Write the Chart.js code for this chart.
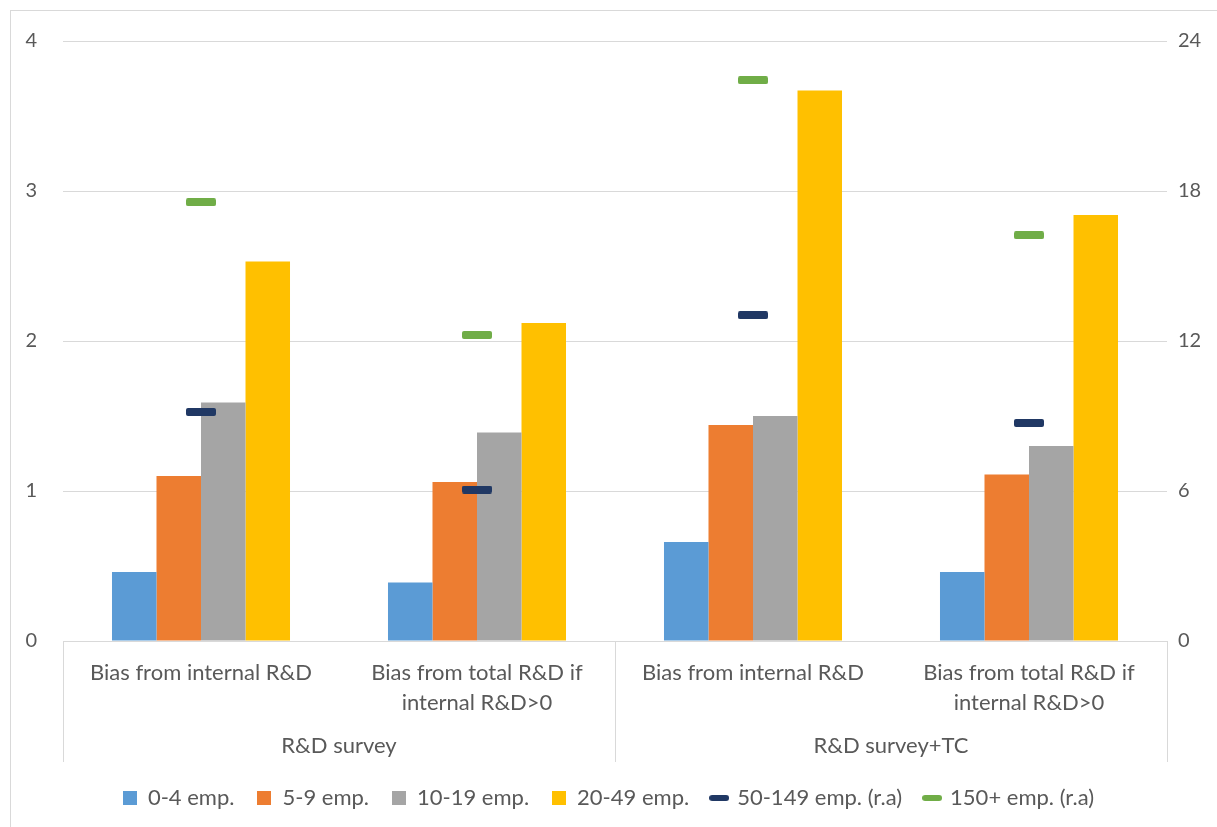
<!DOCTYPE html>
<html>
<head>
<meta charset="utf-8">
<title>Bias by firm size</title>
<script src="https://cdn.jsdelivr.net/npm/chart.js@4.4.1/dist/chart.umd.min.js"></script>
<style>
  html, body { margin: 0; padding: 0; background: #fff; }
  #wrap { position: relative; width: 1217px; height: 827px; overflow: hidden; }
  #frame { position: absolute; left: 10px; top: 10px; width: 1230px; height: 840px; border: 1px solid #d9d9d9; }
  #chart { position: absolute; left: 0; top: 0; }
</style>
</head>
<body>
<div id="wrap">
  <div id="frame"></div>
  <canvas id="chart" width="1217" height="827"></canvas>
</div>
<script>
// categories (inner level) and their groups (outer level)
const categories = [
    ['Bias from internal R&D'],
    ['Bias from total R&D if', 'internal R&D>0'],
    ['Bias from internal R&D'],
    ['Bias from total R&D if', 'internal R&D>0']
];
const groups = ['R&D survey', 'R&D survey+TC'];
const groupSize = 2;

// left axis series
const emp0to4 = [0.46, 0.39, 0.66, 0.46];
const emp5to9 = [1.10, 1.06, 1.44, 1.11];
const emp10to19 = [1.59, 1.39, 1.50, 1.30];
const emp20to49 = [2.53, 2.12, 3.67, 2.84];

// right axis series (r.a)
const emp50to149 = [9.16, 6.06, 13.03, 8.72];
const emp150plus = [17.55, 12.24, 22.43, 16.23];

const leftAxis = { min: 0, max: 4, step: 1 };
const rightAxis = { min: 0, max: 24, step: 6 };

const TEXT = '#595959';
const GRID = '#d9d9d9';
const FONT = 'Lato, "Open Sans", sans-serif';

// small rounded dash used as the marker for the r.a series
function dash(color, w, h, r) {
    const c = document.createElement('canvas');
    c.width = w;
    c.height = h;
    const g = c.getContext('2d');
    g.fillStyle = color;
    g.beginPath();
    g.roundRect(0, 0, w, h, r);
    g.fill();
    return c;
}

function box(color, w, h) {
    const c = document.createElement('canvas');
    c.width = w;
    c.height = h;
    const g = c.getContext('2d');
    g.fillStyle = color;
    g.fillRect(0, 0, w, h);
    return c;
}

function barSet(label, data, color) {
    return {
        label: label,
        data: data,
        backgroundColor: color,
        borderWidth: 0,
        yAxisID: 'y',
        order: 1,
        legendMark: box(color, 14, 14)
    };
}

function dashSet(label, data, color) {
    return {
        type: 'line',
        label: label,
        data: data,
        yAxisID: 'y1',
        showLine: false,
        pointStyle: dash(color, 30, 8, 2),
        pointHoverRadius: 0,
        order: 0,
        legendMark: dash(color, 20, 6, 3)
    };
}

// outer category labels and separators under the x axis
const groupLabels = {
    id: 'groupLabels',
    afterDraw(chart) {
        const { ctx, chartArea, scales } = chart;
        const x = scales.x;
        const catW = (chartArea.right - chartArea.left) / categories.length;
        ctx.save();
        ctx.strokeStyle = GRID;
        ctx.lineWidth = 1;
        ctx.fillStyle = TEXT;
        ctx.font = '22px ' + FONT;
        ctx.textAlign = 'center';
        ctx.textBaseline = 'middle';
        const bounds = [];
        groups.forEach((name, g) => {
            const left = x.getPixelForValue(g * groupSize) - catW / 2;
            const right = x.getPixelForValue(g * groupSize + groupSize - 1) + catW / 2;
            bounds.push(left, right);
            ctx.fillText(name, (left + right) / 2, 746);
        });
        [...new Set(bounds.map(b => Math.round(b)))].forEach(bx => {
            ctx.beginPath();
            ctx.moveTo(bx + 0.5, chartArea.bottom);
            ctx.lineTo(bx + 0.5, 762);
            ctx.stroke();
        });
        ctx.restore();
    }
};

new Chart(document.getElementById('chart'), {
    type: 'bar',
    data: {
        labels: categories,
        datasets: [
            barSet('0-4 emp.', emp0to4, '#5b9bd5'),
            barSet('5-9 emp.', emp5to9, '#ed7d31'),
            barSet('10-19 emp.', emp10to19, '#a5a5a5'),
            barSet('20-49 emp.', emp20to49, '#ffc000'),
            dashSet('50-149 emp. (r.a)', emp50to149, '#203864'),
            dashSet('150+ emp. (r.a)', emp150plus, '#70ad47')
        ]
    },
    options: {
        responsive: false,
        animation: false,
        datasets: {
            bar: { categoryPercentage: 0.645, barPercentage: 1 }
        },
        layout: { padding: { top: 41, left: 0, right: 0, bottom: 8 } },
        plugins: {
            tooltip: { enabled: false },
            legend: {
                position: 'bottom',
                labels: {
                    color: TEXT,
                    font: { family: FONT, size: 22 },
                    usePointStyle: true,
                    boxWidth: 14,
                    padding: 23,
                    generateLabels(chart) {
                        return chart.data.datasets.map((ds, i) => ({
                            text: ds.label,
                            fillStyle: ds.backgroundColor,
                            pointStyle: ds.legendMark,
                            fontColor: TEXT,
                            lineWidth: 0,
                            datasetIndex: i
                        }));
                    }
                }
            }
        },
        scales: {
            x: {
                grid: { display: false },
                border: { display: false },
                ticks: {
                    color: TEXT,
                    font: { family: FONT, size: 22, lineHeight: 1.36 },
                    padding: 9,
                    maxRotation: 0,
                    autoSkip: false
                },
                afterFit(s) { s.height = 123; }
            },
            y: {
                position: 'left',
                min: leftAxis.min,
                max: leftAxis.max,
                ticks: {
                    stepSize: leftAxis.step,
                    color: TEXT,
                    font: { family: FONT, size: 20 },
                    padding: 26
                },
                grid: { color: GRID, drawTicks: false },
                border: { display: false },
                afterFit(s) { s.width = 63; }
            },
            y1: {
                position: 'right',
                min: rightAxis.min,
                max: rightAxis.max,
                ticks: {
                    stepSize: rightAxis.step,
                    color: TEXT,
                    font: { family: FONT, size: 20 },
                    padding: 11
                },
                grid: { display: false, drawTicks: false },
                border: { display: false },
                afterFit(s) { s.width = 50; }
            }
        }
    },
    plugins: [groupLabels]
});
</script>
</body>
</html>
